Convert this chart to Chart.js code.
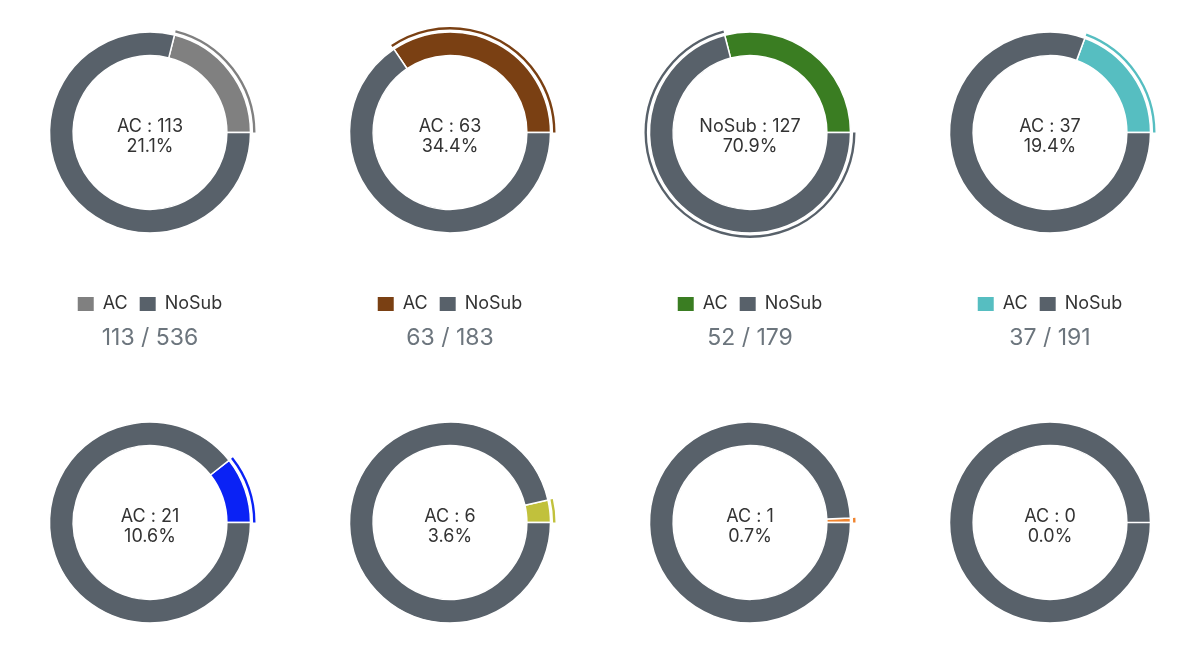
<!DOCTYPE html>
<html>
<head>
<meta charset="utf-8">
<script src="https://cdn.jsdelivr.net/npm/chart.js@4"></script>
<style>
  body { margin: 0; background: #fff; overflow: hidden; font-family: Inter, "Noto Sans", sans-serif; }
  .grid { display: grid; grid-template-columns: repeat(4, 300px); }
  .cell { height: 390px; }
  .cell canvas { display: block; }
  .count { text-align: center; font-size: 23px; line-height: 28px; color: #6c757d; }
</style>
</head>
<body>
<div class="grid" id="grid"></div>
<script>
const labels = ['AC', 'NoSub']
const acCounts = [113, 63, 52, 37, 21, 6, 1, 0]
const totals = [536, 183, 179, 191, 198, 167, 143, 150]
const acColors = ['#808080', '#7a4013', '#3a7d22', '#56bec1', '#0a22f5', '#c1c13c', '#f0842e', '#e0352b']
const noSubColor = '#58616a'
const activeIndex = [0, 0, 1, 0, 0, 0, 0, 0]

Chart.defaults.font.family = 'Inter, "Noto Sans", sans-serif'

// draws the outer arc on the selected slice and the text in the middle
const activeRing = {
  id: 'activeRing',
  afterDatasetsDraw(chart, args, opts) {
    const ctx = chart.ctx
    const arc = chart.getDatasetMeta(0).data[opts.index]
    const {x, y, startAngle, endAngle, outerRadius} = arc.getProps(['x', 'y', 'startAngle', 'endAngle', 'outerRadius'], true)
    if (endAngle - startAngle > 0.001) {
      ctx.save()
      ctx.beginPath()
      ctx.arc(x, y, outerRadius + 3.8, startAngle, endAngle)
      ctx.lineWidth = 2.4
      ctx.strokeStyle = arc.options.backgroundColor
      ctx.stroke()
      ctx.restore()
    }
    const values = chart.data.datasets[0].data
    const total = values.reduce((a, b) => a + b, 0)
    const v = values[opts.index]
    ctx.save()
    ctx.fillStyle = '#333'
    ctx.font = '18px Inter, "Noto Sans", sans-serif'
    ctx.textAlign = 'center'
    ctx.textBaseline = 'middle'
    ctx.fillText(`${chart.data.labels[opts.index]} : ${v}`, x, y - 6)
    ctx.fillText(`${(v / total * 100).toFixed(1)}%`, x, y + 14)
    ctx.restore()
  }
}

const grid = document.getElementById('grid')

acCounts.forEach((ac, i) => {
  const cell = document.createElement('div')
  cell.className = 'cell'
  const canvas = document.createElement('canvas')
  canvas.width = 300
  canvas.height = 323
  canvas.style.width = '300px'
  canvas.style.height = '323px'
  const count = document.createElement('div')
  count.className = 'count'
  count.textContent = `${ac} / ${totals[i]}`
  cell.appendChild(canvas)
  cell.appendChild(count)
  grid.appendChild(cell)

  new Chart(canvas, {
    type: 'doughnut',
    data: {
      labels,
      datasets: [{
        data: [ac, totals[i] - ac],
        backgroundColor: [acColors[i], noSubColor],
        borderColor: '#fff',
        borderWidth: 1.5
      }]
    },
    plugins: [activeRing],
    options: {
      responsive: false,
      animation: false,
      events: [],
      radius: 100.5,
      cutout: '76.5%',
      rotation: 90 - 360 * ac / totals[i],
      layout: { padding: 0 },
      plugins: {
        tooltip: { enabled: false },
        activeRing: { index: activeIndex[i] },
        legend: {
          position: 'bottom',
          title: { display: true, text: '', padding: { top: 17, bottom: 0 }, font: { size: 1, lineHeight: 1 } },
          labels: {
            boxWidth: 16,
            boxHeight: 14,
            padding: 12,
            color: '#333',
            font: { size: 18 },
            generateLabels(chart) {
              const items = Chart.overrides.doughnut.plugins.legend.labels.generateLabels(chart)
              items.forEach(it => { it.lineWidth = 0; it.strokeStyle = it.fillStyle })
              return items
            }
          }
        }
      }
    }
  })
})
</script>
</body>
</html>
